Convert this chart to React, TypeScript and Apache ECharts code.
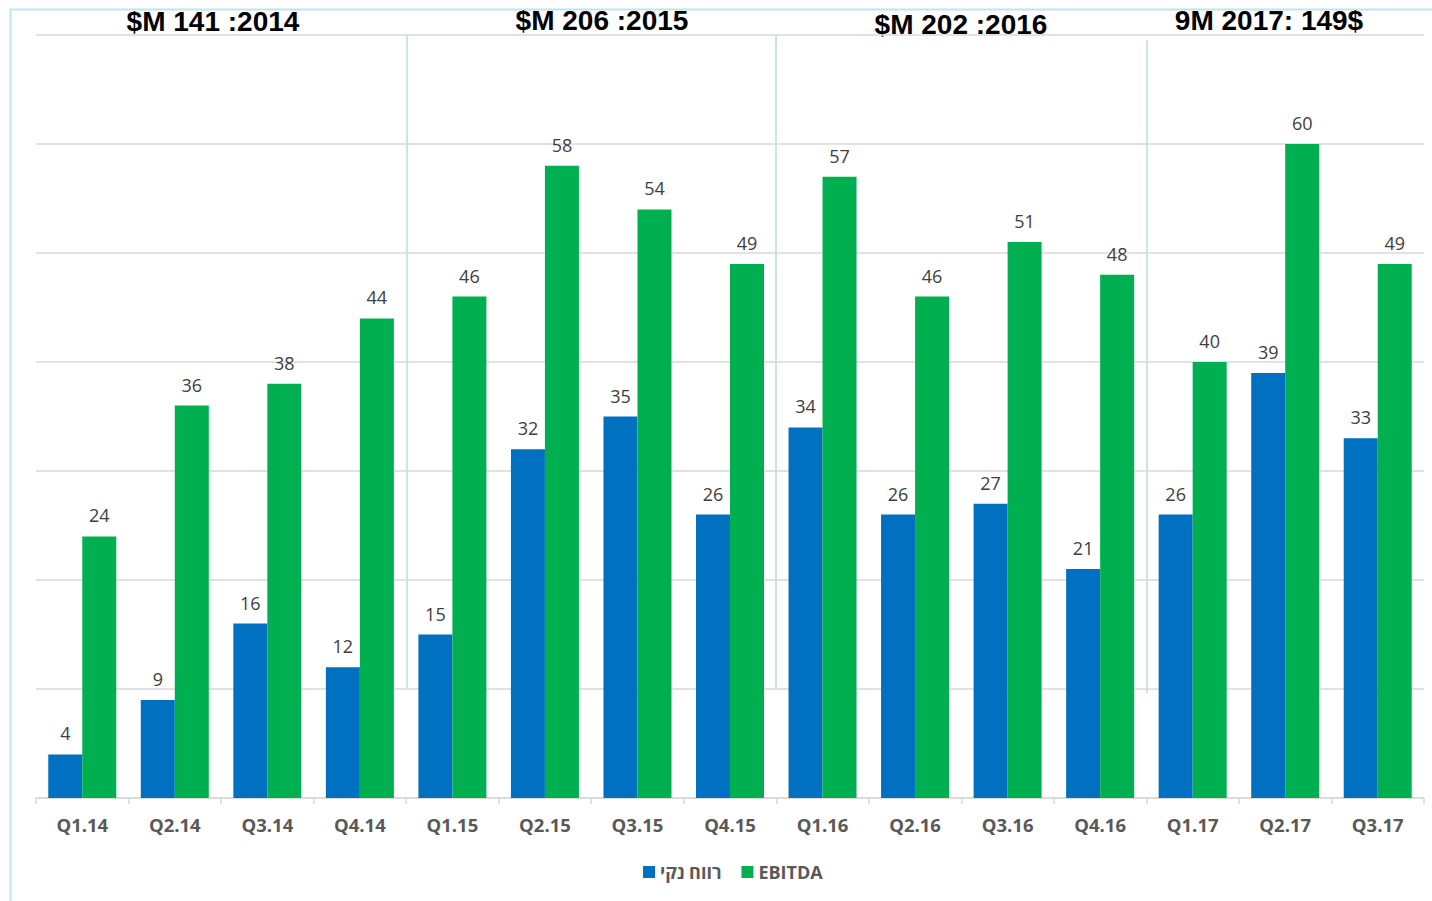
import React, { useEffect, useRef } from "react";
import * as echarts from "echarts";

const categories = ["Q1.14","Q2.14","Q3.14","Q4.14","Q1.15","Q2.15","Q3.15","Q4.15","Q1.16","Q2.16","Q3.16","Q4.16","Q1.17","Q2.17","Q3.17"];
const netProfit = [4, 9, 16, 12, 15, 32, 35, 26, 34, 26, 27, 21, 26, 39, 33];
const ebitda = [24, 36, 38, 44, 46, 58, 54, 49, 57, 46, 51, 48, 40, 60, 49];
const seriesNames = ["רווח נקי", "EBITDA"];
const yearTitles = ["$M 141 :2014", "$M 206 :2015", "$M 202 :2016", "9M 2017: 149$"];

export default function App() {
  const ref = useRef<HTMLDivElement>(null);
  useEffect(() => {
    const chart = echarts.init(ref.current!, null, { renderer: "svg" });
    const labelStyle = {
      show: true,
      position: "top",
      distance: 12,
      color: "#404040",
      fontSize: 18,
      fontFamily: "Open Sans",
    };
    const titleCenters = [213, 602, 961, 1269];
    const titleY = [21, 20, 24, 20];
    const sepLines = [
      { x: 407, y1: 35, y2: 688 },
      { x: 776, y1: 35, y2: 690 },
      { x: 1147, y1: 40, y2: 693 },
    ];
    chart.setOption({
      animation: false,
      grid: { left: 36, right: 8, top: 35, bottom: 103, containLabel: false },
      legend: {
        left: 638,
        top: 858,
        itemWidth: 12,
        itemHeight: 12,
        itemGap: 20,
        icon: "rect",
        textStyle: { color: "#595959", fontSize: 18, fontWeight: "bold", fontFamily: "Open Sans" },
        data: seriesNames,
      },
      xAxis: {
        type: "category",
        data: categories,
        axisLine: { lineStyle: { color: "#d9d9d9", width: 1.5 } },
        axisTick: { show: true, length: 6, lineStyle: { color: "#d9d9d9", width: 1.5 } },
        axisLabel: { color: "#595959", fontSize: 18.5, fontWeight: "bold", fontFamily: "Open Sans", margin: 17 },
      },
      yAxis: {
        type: "value",
        min: 0,
        max: 70,
        interval: 10,
        axisLabel: { show: false },
        axisLine: { show: false },
        axisTick: { show: false },
        splitLine: { lineStyle: { color: "#d9d9d9", width: 1.5 } },
      },
      series: [
        {
          name: seriesNames[0],
          type: "bar",
          data: netProfit,
          barWidth: 34,
          barGap: "0%",
          itemStyle: { color: "#0070c0" },
          label: labelStyle,
        },
        {
          name: seriesNames[1],
          type: "bar",
          data: ebitda,
          barWidth: 34,
          barGap: "0%",
          itemStyle: { color: "#00b050" },
          label: labelStyle,
        },
      ],
      graphic: [
        {
          type: "rect",
          shape: { x: 10.5, y: 9.5, width: 1600, height: 1200 },
          style: { fill: "none", stroke: "#bfe4ea", lineWidth: 2 },
          silent: true,
        },
        ...sepLines.map((l) => ({
          type: "line",
          shape: { x1: l.x, y1: l.y1, x2: l.x, y2: l.y2 },
          style: { stroke: "#b7dde5", lineWidth: 1.5 },
          silent: true,
        })),
        ...yearTitles.map((t, i) => ({
          type: "text",
          x: titleCenters[i],
          y: titleY[i],
          style: {
            text: t,
            fill: "#000000",
            font: "bold 28px 'Liberation Sans', Arial, sans-serif",
            textAlign: "center",
            textVerticalAlign: "middle",
          },
          silent: true,
        })),
      ],
    });
    return () => chart.dispose();
  }, []);
  return (
    <div
      ref={ref}
      style={{ position: "fixed", left: 0, top: 0, width: 1432, height: 901, background: "#ffffff" }}
    />
  );
}
